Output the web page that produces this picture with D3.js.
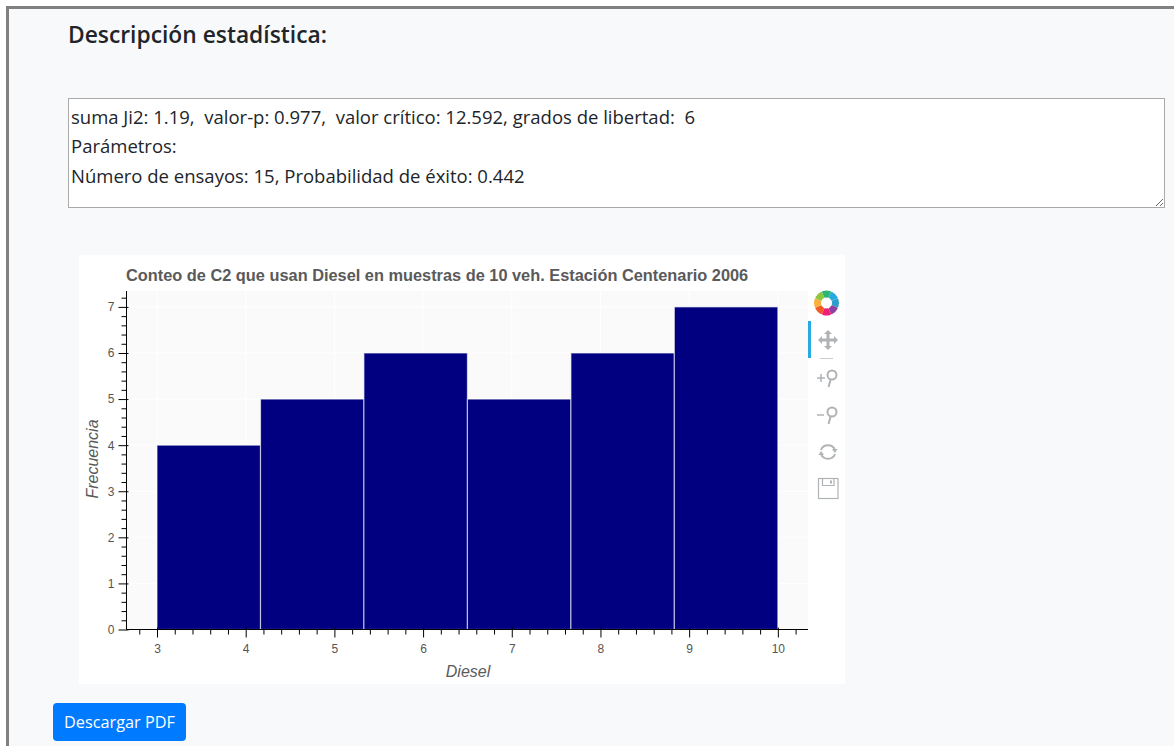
<!DOCTYPE html>
<html>
<head>
<meta charset="utf-8">
<script src="https://cdn.jsdelivr.net/npm/d3@7"></script>
<style>
  html, body { margin: 0; padding: 0; background: #fff; overflow: hidden; }
  #page { position: absolute; left: 6px; top: 6px; width: 1168px; height: 740px; box-sizing: border-box;
    background: #f8f9fa; border-top: 3px solid #808080; border-left: 3px solid #808080; }
  h2 { position: absolute; left: 68px; top: 20px; margin: 0; font: 600 22.8px/30px "Open Sans", sans-serif; color: #212529; }
  textarea { position: absolute; left: 68px; top: 98px; width: 1097px; height: 110px; box-sizing: border-box; margin: 0;
    padding: 3px 2px; border: 1px solid #aaa; background: #fff; color: #212529; outline: none;
    font: 18.5px/29.4px "Open Sans", sans-serif; overflow: hidden; }
  button { position: absolute; left: 53px; top: 703px; width: 133px; height: 38px; border: none; border-radius: 4px;
    background: #007bff; color: #fff; font: 16.3px "Open Sans", sans-serif; padding: 0; }
  svg { position: absolute; left: 0; top: 0; }
</style>
</head>
<body>
<div id="page"></div>
<h2>Descripción estadística:</h2>
<textarea spellcheck="false"></textarea>
<svg id="chart" width="1174" height="746"></svg>
<button>Descargar PDF</button>
<script>
const statLines = [
  "suma Ji2: 1.19,  valor-p: 0.977,  valor crítico: 12.592, grados de libertad:  6",
  "Parámetros:",
  "Número de ensayos: 15, Probabilidad de éxito: 0.442"
];
const binEdges = [3, 4.167, 5.333, 6.5, 7.667, 8.833, 10];
const frecuencia = [4, 5, 6, 5, 6, 7];
const xTicks = [3, 4, 5, 6, 7, 8, 9, 10];
const yTicks = [0, 1, 2, 3, 4, 5, 6, 7];
const xMinor = [2.8, 3.2, 3.4, 3.6, 3.8, 4.2, 4.4, 4.6, 4.8, 5.2, 5.4, 5.6, 5.8, 6.2, 6.4, 6.6, 6.8,
  7.2, 7.4, 7.6, 7.8, 8.2, 8.4, 8.6, 8.8, 9.2, 9.4, 9.6, 9.8, 10.2];
const yMinor = [0.2, 0.4, 0.6, 0.8, 1.2, 1.4, 1.6, 1.8, 2.2, 2.4, 2.6, 2.8, 3.2, 3.4, 3.6, 3.8,
  4.2, 4.4, 4.6, 4.8, 5.2, 5.4, 5.6, 5.8, 6.2, 6.4, 6.6, 6.8, 7.2];
const titulo = "Conteo de C2 que usan Diesel en muestras de 10 veh. Estación Centenario 2006";
const logoColors = ["#2bb673", "#26aae1", "#2e9fc8", "#8e3fa0", "#ef1f78", "#f15a24", "#fbb03b", "#8cc63f"];

d3.select("textarea").property("value", statLines.join("\n"));

const svg = d3.select("#chart");
const plotL = 126.5, plotR = 808, plotT = 291, plotB = 629.5;

const x = d3.scaleLinear().domain([2.656, 10.34]).range([plotL, plotR]);
const y = d3.scaleLinear().domain([0, 7.345]).range([plotB, plotT]);

// white card behind the plot
svg.append("rect").attr("x", 79).attr("y", 255).attr("width", 766).attr("height", 429).attr("fill", "#fff");
svg.append("rect").attr("x", plotL).attr("y", plotT).attr("width", plotR - plotL).attr("height", plotB - plotT).attr("fill", "#fafafa");

// grid
svg.append("g").selectAll("line").data(xTicks).join("line")
  .attr("x1", d => x(d)).attr("x2", d => x(d)).attr("y1", plotT).attr("y2", plotB)
  .attr("stroke", "#fff").attr("stroke-width", 1);
svg.append("g").selectAll("line").data(yTicks).join("line")
  .attr("x1", plotL).attr("x2", plotR).attr("y1", d => y(d)).attr("y2", d => y(d))
  .attr("stroke", "#fff").attr("stroke-width", 1);

// bars
svg.append("g").selectAll("rect").data(frecuencia).join("rect")
  .attr("x", (d, i) => x(binEdges[i]))
  .attr("y", d => y(d))
  .attr("width", (d, i) => x(binEdges[i + 1]) - x(binEdges[i]))
  .attr("height", d => y(0) - y(d))
  .attr("fill", "#000080")
  .attr("stroke", "#fff")
  .attr("stroke-opacity", 0.6)
  .attr("stroke-width", 1.2);

// minor ticks first, majors on top
svg.append("g").attr("transform", `translate(0,${plotB})`)
  .call(d3.axisBottom(x).tickValues(xMinor).tickSize(5).tickFormat(""))
  .call(g => g.select(".domain").remove())
  .selectAll("line").attr("stroke", "#000");
svg.append("g").attr("transform", `translate(${plotL},0)`)
  .call(d3.axisLeft(y).tickValues(yMinor).tickSize(5).tickFormat(""))
  .call(g => g.select(".domain").remove())
  .selectAll("line").attr("stroke", "#000");

const xAxis = svg.append("g").attr("transform", `translate(0,${plotB})`)
  .call(d3.axisBottom(x).tickValues(xTicks).tickSizeOuter(0).tickSize(8).tickPadding(7));
const yAxis = svg.append("g").attr("transform", `translate(${plotL},0)`)
  .call(d3.axisLeft(y).tickValues(yTicks).tickSizeOuter(0).tickSize(8).tickPadding(4));

xAxis.select(".domain").attr("d", `M${plotL},0H${plotR}`).attr("stroke", "#000");
yAxis.select(".domain").attr("d", `M0,${plotB}V${plotT}`).attr("stroke", "#000");
xAxis.selectAll(".tick line").attr("stroke", "#000").attr("y1", -2);
yAxis.selectAll(".tick line").attr("stroke", "#000").attr("x1", 2);
[xAxis, yAxis].forEach(a => a.selectAll("text")
  .attr("fill", "#555").style("font", "12px 'Liberation Sans', sans-serif"));

// labels
svg.append("text").attr("x", 126).attr("y", 281)
  .attr("fill", "#5a5a5a").style("font", "bold 16.35px 'Liberation Sans', sans-serif").text(titulo);
svg.append("text").attr("x", 468).attr("y", 677).attr("text-anchor", "middle")
  .attr("fill", "#5a5a5a").style("font", "italic 16px 'Liberation Sans', sans-serif").text("Diesel");
svg.append("text").attr("transform", "translate(98,459) rotate(-90)").attr("text-anchor", "middle")
  .attr("fill", "#5a5a5a").style("font", "italic 16px 'Liberation Sans', sans-serif").text("Frecuencia");

// toolbar
const tools = svg.append("g");
tools.append("rect").attr("x", 808).attr("y", 321).attr("width", 3).attr("height", 37).attr("fill", "#26aae1");
tools.append("line").attr("x1", 820).attr("x2", 833).attr("y1", 358.5).attr("y2", 358.5).attr("stroke", "#ccc");

const arc = d3.arc().innerRadius(5.5).outerRadius(12.5).cornerRadius(1);
const logo = tools.append("g").attr("transform", "translate(826.5,303)");
logo.selectAll("path")
  .data(d3.pie().value(1).sort(null).startAngle(-Math.PI / 8).endAngle(2 * Math.PI - Math.PI / 8)(logoColors))
  .join("path")
  .attr("d", arc).attr("fill", d => d.data);

const grey = "#b0b3b5";
const move = tools.append("g").attr("transform", "translate(828,340)").attr("fill", grey).attr("stroke", grey);
move.append("path").attr("d", "M-8,0H8M0,-8V8").attr("stroke-width", 3);
move.append("path").attr("d", "M-10,0L-6,-4V4ZM10,0L6,-4V4ZM0,-10L-4,-6H4ZM0,10L-4,6H4Z").attr("stroke", "none");

const lens = (g, sign) => {
  g.append("circle").attr("cx", 6).attr("cy", -3).attr("r", 4.5).attr("fill", "none").attr("stroke", grey).attr("stroke-width", 2);
  g.append("line").attr("x1", 4.5).attr("y1", 2).attr("x2", 2.5).attr("y2", 9).attr("stroke", grey).attr("stroke-width", 2);
  g.append("path").attr("d", sign).attr("stroke", grey).attr("stroke-width", 1.5).attr("fill", "none");
};
lens(tools.append("g").attr("transform", "translate(826,378)"), "M-9,0H-1M-5,-4V4");
lens(tools.append("g").attr("transform", "translate(826,415)"), "M-9,0H-2");

const reset = tools.append("g").attr("transform", "translate(828,452)");
reset.append("path").attr("d", "M-7,-2A7.5,7.5 0 0 1 7,-2M7,2A7.5,7.5 0 0 1 -7,2").attr("fill", "none").attr("stroke", grey).attr("stroke-width", 2);
reset.append("path").attr("d", "M9.5,-3L4,-3L7,1ZM-9.5,3L-4,3L-7,-1Z").attr("fill", grey);

const save = tools.append("g").attr("transform", "translate(818,478)");
save.append("rect").attr("x", 0.5).attr("y", 0.5).attr("width", 19.5).attr("height", 20).attr("fill", "none").attr("stroke", grey).attr("stroke-width", 1.2);
save.append("path").attr("d", "M4.5,0.5V7.5H16V0.5").attr("fill", "none").attr("stroke", grey).attr("stroke-width", 1.2);
save.append("rect").attr("x", 12).attr("y", 2.5).attr("width", 2).attr("height", 3).attr("fill", grey);
</script>
</body>
</html>
